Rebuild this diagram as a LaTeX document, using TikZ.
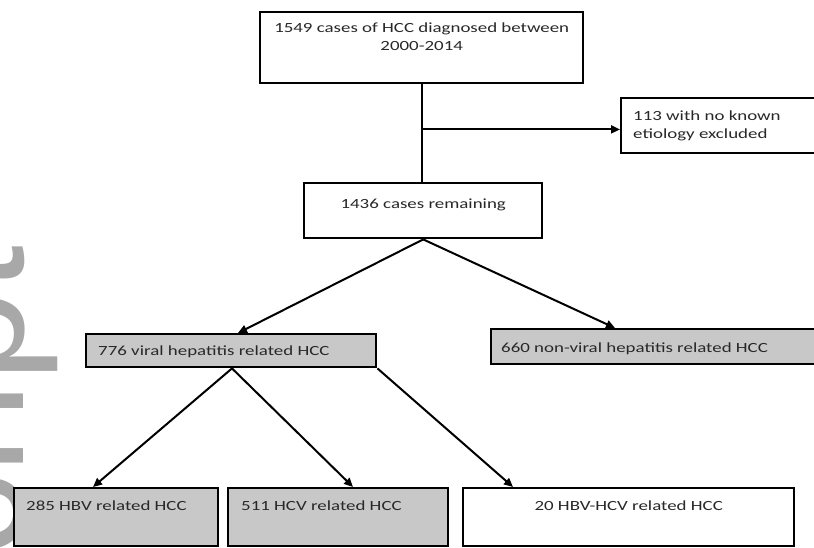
\documentclass[tikz,border=0pt]{standalone}
\usepackage{fontspec}
\setmainfont{Carlito}[FakeStretch=1.35]
\newfontfamily\wmfont{Liberation Sans}
\usetikzlibrary{arrows.meta,calc}
\definecolor{boxgray}{RGB}{200,200,200}
\definecolor{wmgray}{RGB}{168,168,168}
\definecolor{txt}{RGB}{40,40,40}
\newcommand\ctext[4]{\parbox[t][#2][t]{#1}{\centering\vspace*{#3}\strut#4\par}}
\newcommand\ltext[5]{\parbox[t][#2][t]{#1}{\raggedright\leftskip=#3\vspace*{#4}\strut#5\par}}
\begin{document}
\begin{tikzpicture}[x=1bp,y=-1bp,
  box/.style={draw=black, line width=2.4bp, inner sep=0pt, anchor=north west,
    font=\fontsize{14bp}{18bp}\selectfont, text=txt},
  graybox/.style={box, fill=boxgray},
  conn/.style={draw=black, line width=2bp, -{Triangle[length=9bp,width=8bp]}},
  trunk/.style={draw=black, line width=2.4bp},
  wm/.style={text=wmgray, inner sep=0pt, font=\wmfont\fontsize{165bp}{165bp}\selectfont}
]
\useasboundingbox (0,0) rectangle (814,548);
\fill[white] (0,0) rectangle (814,548);

\begin{scope}
  \clip (0,0) rectangle (814,548);
  \node[wm, rotate=90, anchor=base east] (wmark) at (23,245) {Manuscript};
\end{scope}

\node[box] (A) at (259,11) {\ctext{323bp}{71bp}{7.4bp}{1549 cases of HCC diagnosed between\\2000-2014}};
\node[box] (B) at (620,97) {\ltext{198bp}{55bp}{12bp}{9.4bp}{113 with no known\\etiology excluded}};
\node[box] (C) at (303,182) {\ctext{238bp}{55bp}{12.4bp}{1436 cases remaining}};
\node[graybox] (D) at (85,333) {\ltext{290bp}{33bp}{12bp}{8.4bp}{776 viral hepatitis related HCC}};
\node[graybox] (E) at (490,328) {\ltext{328bp}{35bp}{10bp}{10.4bp}{660 non-viral hepatitis related HCC}};
\node[graybox] (F) at (13,487) {\ltext{204bp}{58bp}{12bp}{9.4bp}{285 HBV related HCC}};
\node[graybox] (G) at (227,487) {\ltext{220bp}{58bp}{13bp}{9.4bp}{511 HCV related HCC}};
\node[box] (H) at (462,487) {\ctext{331bp}{58bp}{9.4bp}{20 HBV-HCV related HCC}};

\draw[trunk] (A.south) -- (A.south |- C.north);
\coordinate (br) at ($(A.south)+(0,45)$);
\draw[conn] (br) -- (br -| B.west);
\draw[conn] (C.south) -- ($(D.north west)+(153,0)$);
\draw[conn] (C.south) -- ($(E.north west)+(125,0)$);
\coordinate (dap) at ($(D.south west)+(147,0)$);
\draw[conn] (dap) -- ($(F.north west)+(80,0)$);
\draw[conn] (dap) -- ($(G.north west)+(126,0)$);
\draw[conn] (D.south east) -- ($(H.north west)+(51,0)$);
\end{tikzpicture}
\end{document}
